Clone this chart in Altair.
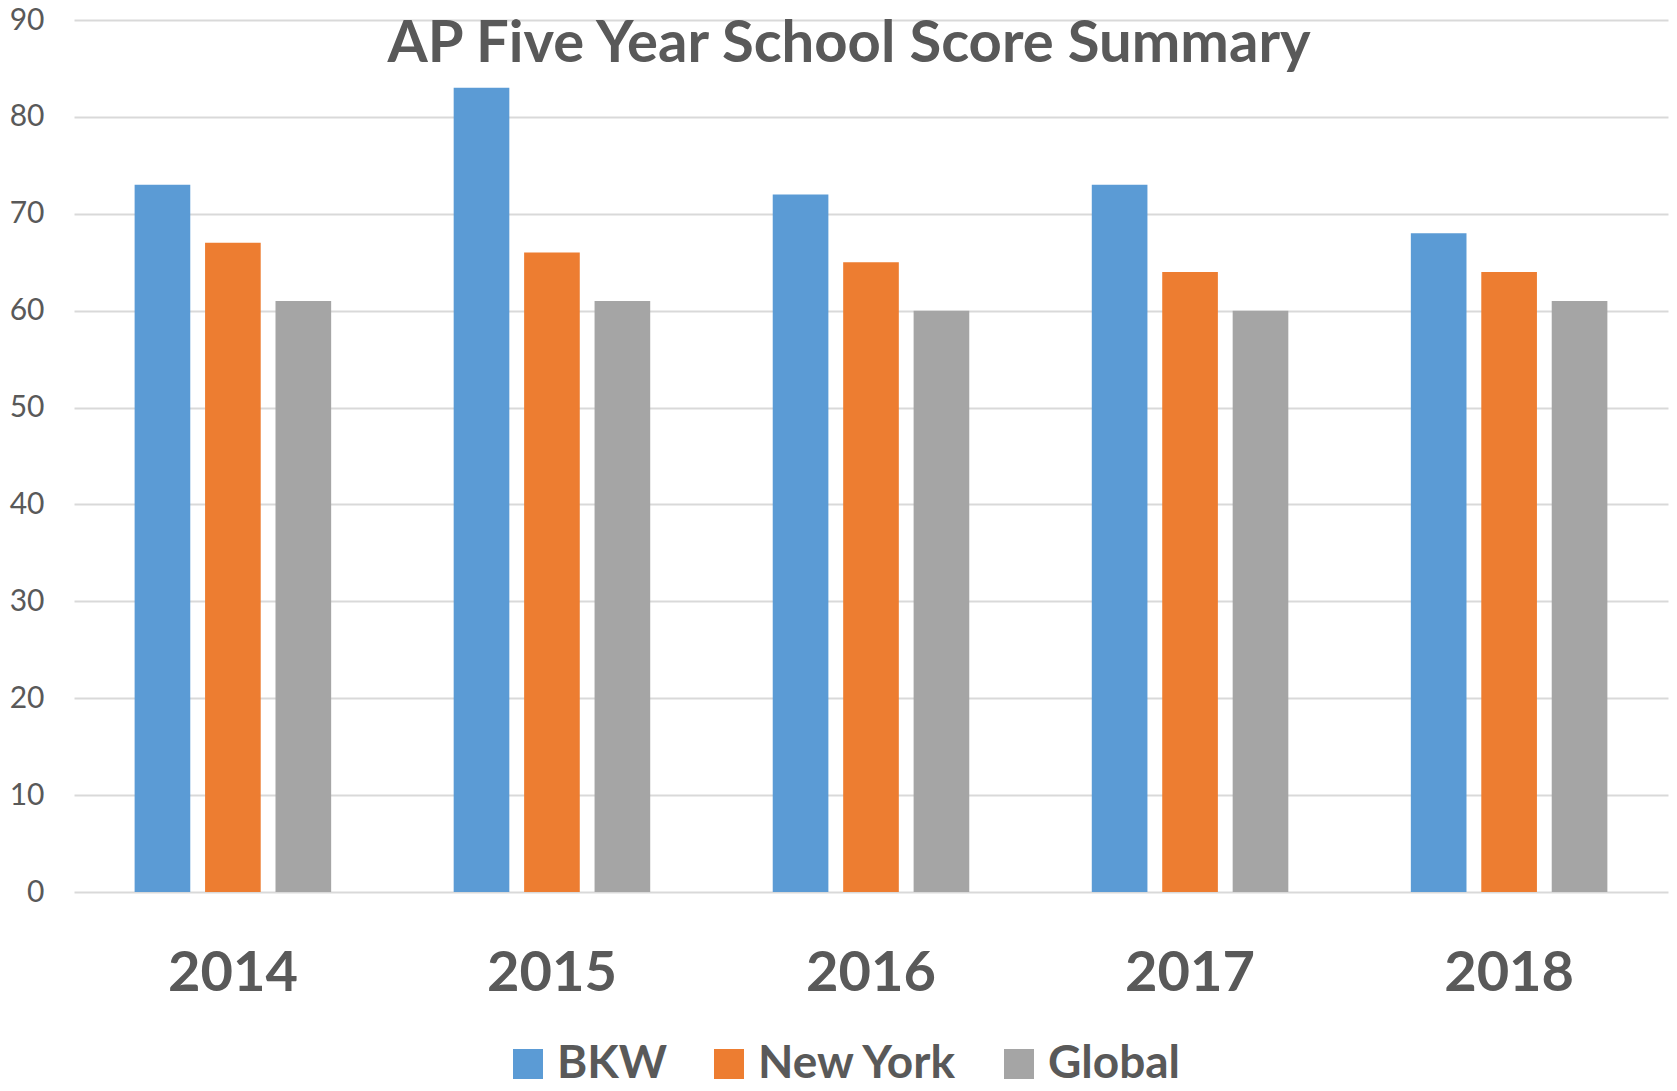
import altair as alt
import pandas as pd

years = ["2014", "2015", "2016", "2017", "2018"]
series = ["BKW", "New York", "Global"]
bkw = [73, 83, 72, 73, 68]
new_york = [67, 66, 65, 64, 64]
global_ = [61, 61, 60, 60, 61]
colors = ["#5B9BD5", "#ED7D31", "#A5A5A5"]
y_ticks = [0, 10, 20, 30, 40, 50, 60, 70, 80, 90]

rows = []
for i, yr in enumerate(years):
    for s, vals in zip(series, [bkw, new_york, global_]):
        rows.append({"Year": yr, "Series": s, "Score": vals[i]})
df = pd.DataFrame(rows)

FONT = "Lato"
GRAY = "#595959"

chart = alt.Chart(df).mark_bar().encode(
    x=alt.X("Year:N", sort=years, title=None,
            scale=alt.Scale(paddingInner=0.384, paddingOuter=0.19),
            axis=alt.Axis(labelAngle=0, labelFont=FONT, labelFontSize=56,
                          labelFontWeight="bold", labelColor=GRAY,
                          labelPadding=54, ticks=False, domain=False,
                          grid=False)),
    xOffset=alt.XOffset("Series:N", sort=series,
                        scale=alt.Scale(paddingInner=0.21, paddingOuter=0)),
    y=alt.Y("Score:Q", title=None,
            scale=alt.Scale(domain=[0, 90], nice=False),
            axis=alt.Axis(values=y_ticks, labelFont=FONT, labelFontSize=30,
                          labelColor=GRAY, labelPadding=30, ticks=False,
                          domain=False, grid=True, gridColor="#D9D9D9",
                          gridWidth=2)),
    color=alt.Color("Series:N", sort=series,
                    scale=alt.Scale(domain=series, range=colors),
                    legend=alt.Legend(title=None, orient="none",
                                      direction="horizontal",
                                      legendX=431, legendY=1021,
                                      symbolType="square", symbolSize=900,
                                      symbolStrokeWidth=0, labelFont=FONT,
                                      labelFontSize=46, labelFontWeight="bold",
                                      labelColor=GRAY, labelOffset=6,
                                      labelLimit=500, columnPadding=38)),
).properties(
    width=1594,
    height=872,
    title=alt.TitleParams(
        text="AP Five Year School Score Summary",
        font=FONT, fontSize=58, fontWeight="bold", color=GRAY,
        anchor="middle", baseline="alphabetic", offset=0, dy=115, dx=-22,
    ),
    autosize=alt.AutoSizeParams(type="none"),
    padding={"left": 66, "top": 12, "right": 1, "bottom": 197},
).configure_view(stroke=None, strokeWidth=0)

chart.save("out.html", embed_options={"renderer": "svg", "actions": False})
